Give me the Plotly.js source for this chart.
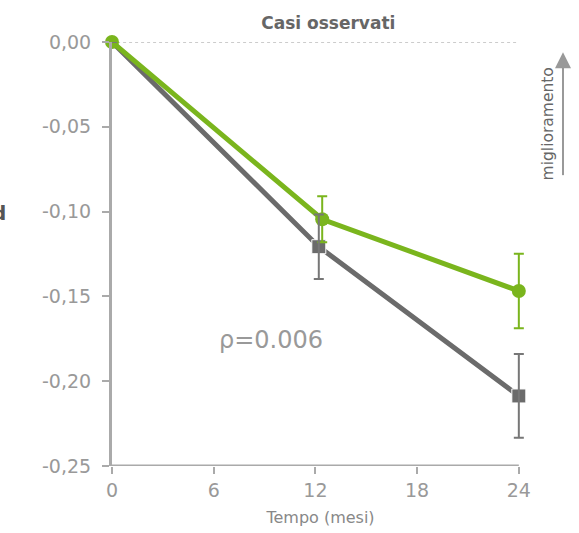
<!DOCTYPE html>
<html><head><meta charset="utf-8">
<script src="https://cdn.plot.ly/plotly-3.0.1.min.js"></script>
<style>body{margin:0;background:#fff}#c{width:579px;height:533px}</style>
</head><body><div id="c"></div>
<script>
const monthsGreen = [0, 12.4, 24];
const monthsGray = [0, 12.2, 24];
const greenVals = [0, -0.1045, -0.1468];
const greenErr = [0, 0.0135, 0.022];
const grayVals = [0, -0.1207, -0.2087];
const grayErr = [0, 0.019, 0.0247];
const xTicks = [0, 6, 12, 18, 24];
const yTicks = [0, -0.05, -0.10, -0.15, -0.20, -0.25];
const yTickText = ["0,00", "-0,05", "-0,10", "-0,15", "-0,20", "-0,25"];
const pText = "ρ=0.006";
const FONT = "'DejaVu Sans', sans-serif";

const GREEN = '#7ab51d', GRAY = '#6b6b6b';
const traces = [
  {x: monthsGray, y: grayVals, type: 'scatter', mode: 'lines+markers',
   line: {color: GRAY, width: 5},
   marker: {symbol: 'square', size: [0, 14, 14], color: GRAY, opacity: 1},
   cliponaxis: false, showlegend: false},
  {x: monthsGreen, y: greenVals, type: 'scatter', mode: 'lines+markers',
   line: {color: GREEN, width: 5},
   marker: {symbol: 'circle', size: 14, color: GREEN},
   error_y: {type: 'data', array: greenErr, visible: true, color: GREEN, thickness: 2, width: 5},
   cliponaxis: false, showlegend: false},
  {x: monthsGray, y: grayVals, type: 'scatter', mode: 'markers',
   marker: {size: 1, opacity: 0},
   error_y: {type: 'data', array: grayErr, visible: true, color: '#777', thickness: 2, width: 5},
   cliponaxis: false, showlegend: false}
];

const layout = {
  width: 579, height: 533,
  margin: {l: 112, r: 50, t: 42, b: 67},
  paper_bgcolor: '#fff', plot_bgcolor: '#fff',
  font: {family: FONT, color: '#999'},
  title: {text: 'Casi osservati', font: {family: FONT, size: 17, color: '#666', weight: 'bold'},
          x: 0.567, xref: 'container', xanchor: 'center', y: 0.957, yanchor: 'middle'},
  xaxis: {range: [0, 24.6], tickvals: xTicks, ticktext: xTicks.map(String),
          showline: false, zeroline: false, showgrid: false,
          ticks: 'outside', ticklen: 7, tickwidth: 2, tickcolor: '#aaa',
          tickfont: {size: 19, color: '#999'},
          title: {text: 'Tempo (mesi)', font: {size: 16, color: '#888'}, standoff: 12}},
  yaxis: {range: [-0.25, 0], tickvals: yTicks, ticktext: yTickText,
          showline: true, linecolor: '#aaa', linewidth: 3, zeroline: false, showgrid: false,
          ticks: 'outside', ticklen: 7, tickwidth: 2, tickcolor: '#aaa', ticklabelstandoff: 7,
          tickfont: {size: 19, color: '#999'}},
  shapes: [
    {type: 'line', xref: 'x', yref: 'y', x0: 0.3, x1: 24, y0: 0, y1: 0,
     line: {color: '#999', width: 1, dash: '3px,3px'}, layer: 'below'},
    {type: 'line', xref: 'x', yref: 'y', x0: 0, x1: 24, y0: -0.25, y1: -0.25,
     line: {color: '#aaa', width: 3}, layer: 'above'},
    {type: 'line', xref: 'paper', yref: 'paper', x0: 1.0815, x1: 1.0815, y0: 0.686, y1: 0.94,
     line: {color: '#999', width: 2}}
  ],
  annotations: [
    {x: 9.4, y: -0.1757, xref: 'x', yref: 'y', text: pText, showarrow: false,
     font: {size: 24, color: '#999', family: FONT}},
    {x: 1.0455, y: 0.808, xref: 'paper', yref: 'paper', xanchor: 'center', yanchor: 'middle',
     text: 'miglioramento', textangle: -90,
     showarrow: false, font: {size: 15.5, color: '#666', family: FONT}},
    {x: 1.0815, y: 0.976, xref: 'paper', yref: 'paper', ax: 1.0815, ay: 0.93, axref: 'paper', ayref: 'paper',
     text: '', showarrow: true, arrowhead: 2, arrowsize: 1.6, arrowwidth: 2, arrowcolor: '#999'},
    {x: -0.2495, y: 0.597, xref: 'paper', yref: 'paper', xanchor: 'right', yanchor: 'middle',
     text: 'd', showarrow: false,
     font: {size: 20, color: '#555', family: FONT, weight: 'bold'}}
  ]
};
Plotly.newPlot('c', traces, layout, {displayModeBar: false, staticPlot: true});
</script></body></html>
